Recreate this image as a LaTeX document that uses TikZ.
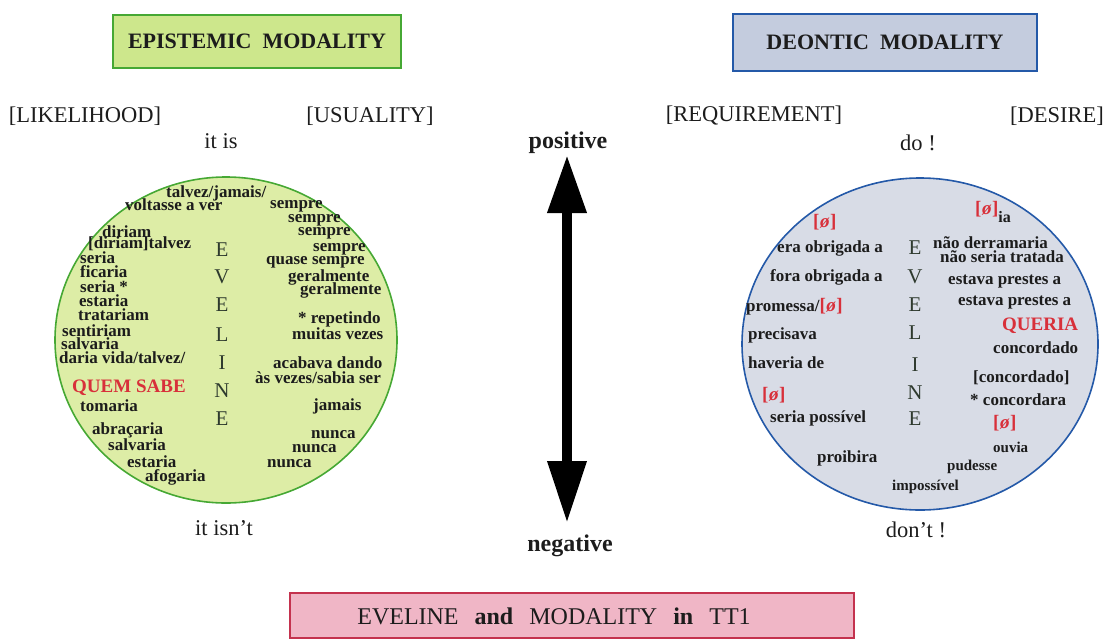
\documentclass[tikz,border=0pt]{standalone}
\usepackage{fontspec}
\setmainfont{Liberation Serif}
\usetikzlibrary{shapes.geometric,arrows.meta}
\newcommand\fsz[1]{\fontsize{#1}{#1}\selectfont}
\definecolor{epibox}{HTML}{CDE78C}
\definecolor{epifill}{HTML}{DDEDA6}
\definecolor{epiline}{HTML}{46A834}
\definecolor{deobox}{HTML}{C4CCDE}
\definecolor{deofill}{HTML}{D8DCE6}
\definecolor{deoline}{HTML}{2459A8}
\definecolor{ttbox}{HTML}{F0B6C6}
\definecolor{ttline}{HTML}{C4324E}
\definecolor{nulred}{HTML}{D8303A}
\definecolor{ink}{HTML}{1C1C1C}
\definecolor{evink}{HTML}{2E3A2E}
\newcommand\nul{{\bfseries[\kern0.5pt{\itshape ø}\kern0.5pt]}}
\tikzset{
  titlebox/.style={draw, line width=1.6pt, inner sep=0pt, text=ink,
    font=\fsz{22}\bfseries},
  heading/.style={inner sep=0pt, text=ink, font=\fsz{22.5}},
  pole/.style={inner sep=0pt, text=ink, font=\fsz{24}\bfseries},
  ring/.style={ellipse, draw, line width=1.6pt, inner sep=0pt},
  wd/.style={anchor=west, inner sep=0pt, text=ink, font=\fsz{17}\bfseries},
  swd/.style={wd, font=\fsz{15}\bfseries},
  redwd/.style={wd, text=nulred, font=\fsz{19}\bfseries},
  nulmark/.style={wd, text=nulred, font=\fsz{19}},
  evl/.style={inner sep=0pt, text=evink, font=\fsz{21}},
  bigarrow/.style={line width=10pt, draw=black,
    {Triangle[width=37pt,length=58pt]}-{Triangle[width=37pt,length=62pt]}}
}
\begin{document}
\begin{tikzpicture}[x=1pt,y=-1pt]
\useasboundingbox (0,0) rectangle (1110,640);

% ---- title boxes
\node[titlebox, fill=epibox, draw=epiline, minimum width=288pt, minimum height=53pt]
  (epi) at (257,41.5) {EPISTEMIC\hspace{0.5em}MODALITY};
\node[titlebox, fill=deobox, draw=deoline, minimum width=304pt, minimum height=57pt]
  (deo) at (885,42.5) {DEONTIC\hspace{0.5em}MODALITY};
\node[titlebox, fill=ttbox, draw=ttline, minimum width=564pt, minimum height=45pt]
  (tt) at (572,615.5) {};
\node[inner sep=0pt, text=ink, font=\fsz{24}] (ttl) at (554,616)
  {EVELINE\hspace{16pt}\textbf{and}\hspace{16pt}MODALITY\hspace{16pt}\textbf{in}\hspace{16pt}TT1};

% ---- scale headings
\node[heading] (likely) at (85,116) {[LIKELIHOOD]};
\node[heading] (usual) at (370,116) {[USUALITY]};
\node[heading] (itis) at (221,141) {it is};
\node[heading] (itisnt) at (224,528) {it isn’t};
\node[heading] (requir) at (754,116) {[REQUIREMENT]};
\node[heading, anchor=east] (desire) at (1104,116) {[DESIRE]};
\node[heading] (doit) at (918,143) {do !};
\node[heading] (dont) at (916,530) {don’t !};

% ---- polarity axis
\node[pole] (pos) at (568,143) {positive};
\node[pole] (neg) at (570,546) {negative};
\coordinate (postip) at (567,155);
\coordinate (negtip) at (567,523);
\draw[bigarrow] (postip) -- (negtip);

% ---- epistemic circle
\node[ring, fill=epifill, draw=epiline, minimum width=342pt, minimum height=326pt]
  (lring) at (226,340) {};
\foreach \ch/\yy [count=\i] in {E/250,V/277,E/305,L/335,I/363,N/391,E/419}
  \node[evl] (le\i) at (222,\yy) {\ch};

\node[wd] (l1) at (166,193) {talvez/jamais/};
\node[wd] (l2) at (125,205) {voltasse a ver};
\node[wd] (l3) at (102,232) {diriam};
\node[wd] (l4) at (88,244) {[diriam]talvez};
\node[wd] (l5) at (80,258) {seria};
\node[wd] (l6) at (80,272) {ficaria};
\node[wd] (l7) at (80,287) {seria *};
\node[wd] (l8) at (79,301) {estaria};
\node[wd] (l9) at (78,315) {tratariam};
\node[wd] (l10) at (62,331) {sentiriam};
\node[wd] (l11) at (61,344) {salvaria};
\node[wd] (l12) at (59,358) {daria vida/talvez/};
\node[redwd] (l13) at (72,388) {QUEM SABE};
\node[wd] (l14) at (80,406) {tomaria};
\node[wd] (l15) at (92,430) {abraçaria};
\node[wd] (l16) at (108,445) {salvaria};
\node[wd] (l17) at (127,462) {estaria};
\node[wd] (l18) at (145,477) {afogaria};

\node[wd] (s1) at (270,206) {sempre};
\node[wd] (s2) at (288,220) {sempre};
\node[wd] (s3) at (298,233) {sempre};
\node[wd] (s4) at (313,249) {sempre};
\node[wd] (s5) at (266,262) {quase sempre};
\node[wd] (s6) at (288,277) {geralmente};
\node[wd] (s7) at (300,290) {geralmente};
\node[wd] (s8) at (298,319) {* repetindo};
\node[wd] (s9) at (292,334) {muitas vezes};
\node[wd] (s10) at (273,363) {acabava dando};
\node[wd] (s11) at (255,378) {às vezes/sabia ser};
\node[wd] (s12) at (313,406) {jamais};
\node[wd] (s13) at (311,435) {nunca};
\node[wd] (s14) at (292,449) {nunca};
\node[wd] (s15) at (267,464) {nunca};

% ---- deontic circle
\node[ring, fill=deofill, draw=deoline, minimum width=356pt, minimum height=332pt]
  (rring) at (920,344) {};
\foreach \ch/\yy [count=\i] in {E/248,V/277,E/305,L/333,I/365,N/393,E/419}
  \node[evl] (re\i) at (915,\yy) {\ch};

\node[nulmark] (n1) at (813,222) {\nul};
\node[wd] (d1) at (777,248) {era obrigada a};
\node[wd] (d2) at (770,277) {fora obrigada a};
\node[wd] (d3) at (746,307) {promessa/\textcolor{nulred}{\fsz{19}\nul}};
\node[wd] (d4) at (748,335) {precisava};
\node[wd] (d5) at (748,363) {haveria de};
\node[nulmark] (n2) at (762,395) {\nul};
\node[wd] (d6) at (770,418) {seria possível};
\node[wd] (d7) at (817,458) {proibira};
\node[swd] (d8) at (892,487) {impossível};

\node[wd] (e0) at (975,212) {\textcolor{nulred}{\fsz{19}\nul}\raisebox{-8pt}{\fsz{16}ia}};
\node[wd] (e1) at (933,243) {não derramaria};
\node[wd] (e2) at (940,257) {não seria tratada};
\node[wd] (e3) at (948,282) {estava prestes a};
\node[wd] (e4) at (958,303) {estava prestes a};
\node[redwd] (e5) at (1002,326) {QUERIA};
\node[wd] (e6) at (993,348) {concordado};
\node[wd] (e7) at (973,378) {[concordado]};
\node[wd] (e8) at (970,400) {* concordara};
\node[nulmark] (n3) at (993,423) {\nul};
\node[swd] (e9) at (993,447) {ouvia};
\node[swd] (e10) at (947,467) {pudesse};
\end{tikzpicture}
\end{document}
